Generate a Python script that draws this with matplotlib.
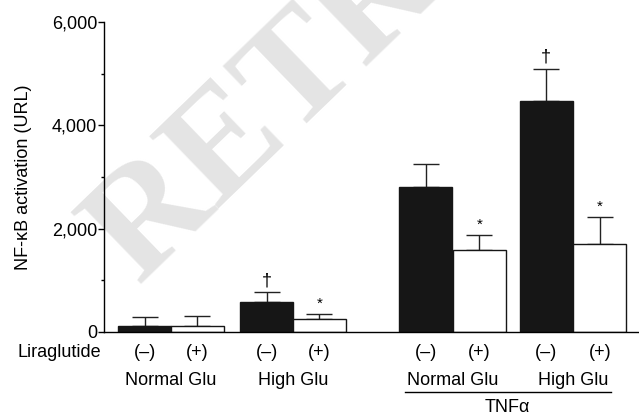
#!/usr/bin/env python
import matplotlib
matplotlib.use("Agg")
import matplotlib.pyplot as plt
from matplotlib.ticker import FuncFormatter, MultipleLocator

plt.rcParams["font.family"] = ["Liberation Sans", "DejaVu Sans"]

# values (URL)
treatment = ["(\u2013)", "(+)", "(\u2013)", "(+)", "(\u2013)", "(+)", "(\u2013)", "(+)"]
glucose = ["Normal Glu", "High Glu", "Normal Glu", "High Glu"]
activation = [115, 110, 580, 250, 2800, 1590, 4470, 1700]
sem = [175, 200, 190, 100, 450, 290, 620, 520]
marks = ["", "", "\u2020", "*", "", "*", "\u2020", "*"]

# layout (bar units)
xpos = [0.77, 1.76, 3.07, 4.06, 6.07, 7.08, 8.34, 9.35]
colors = ["#161616", "white"] * 4

fig = plt.figure(figsize=(6.39, 4.17), dpi=100)
ax = fig.add_axes([104 / 639, 85 / 417, 535 / 639, 310 / 417])

# faint watermark behind the plot
fig.text(138 / 639, 1 - 284 / 417, "RETRACTED", rotation=44, rotation_mode="anchor",
         ha="left", va="baseline", fontsize=110, fontweight="bold",
         family="Liberation Serif", color="#e4e4e4", zorder=-1)

ax.bar(xpos, activation, width=1.0, color=colors, edgecolor="#161616",
       linewidth=1.0, zorder=2)
ax.errorbar(xpos, activation, yerr=[[0] * len(sem), sem], fmt="none",
            ecolor="#222222", elinewidth=1.0, capsize=9.5, capthick=1.0, zorder=1)
for x, y, e, m in zip(xpos, activation, sem, marks):
    if m:
        ax.text(x, y + e + 60, m, ha="center", va="bottom", fontsize=13 if m != "*" else 11)

ax.set_xlim(0, 10.09)
ax.set_ylim(0, 6000)
ax.patch.set_alpha(0)
ax.spines["top"].set_visible(False)
ax.spines["right"].set_visible(False)
ax.spines["left"].set_linewidth(1.0)
ax.spines["bottom"].set_linewidth(1.0)
ax.yaxis.set_major_locator(MultipleLocator(2000))
ax.yaxis.set_minor_locator(MultipleLocator(1000))
ax.yaxis.set_major_formatter(FuncFormatter(lambda v, p: f"{int(v):,}"))
ax.tick_params(axis="y", which="major", length=4, width=1.0, labelsize=13, pad=1)
ax.tick_params(axis="y", which="minor", length=2, width=1.0)
ax.set_xticks([])
ax.set_ylabel("NF-\u03baB activation (URL)", fontsize=13, labelpad=14)

trans = ax.get_xaxis_transform()
for x, t in zip(xpos, treatment):
    ax.text(x, -0.065, t, transform=trans, ha="center", va="center", fontsize=13)
ax.text(-0.05, -0.065, "Liraglutide", transform=trans, ha="right", va="center", fontsize=13)
for i, g in enumerate(glucose):
    gx = (xpos[2 * i] + xpos[2 * i + 1]) / 2
    ax.text(gx, -0.155, g, transform=trans, ha="center", va="center", fontsize=13)
ax.plot([5.67, 9.57], [-0.193, -0.193], transform=trans, color="black",
        linewidth=1.0, clip_on=False)
ax.text(7.6, -0.245, "TNF\u03b1", transform=trans, ha="center", va="center", fontsize=13)

fig.savefig("out.png", dpi=100)
